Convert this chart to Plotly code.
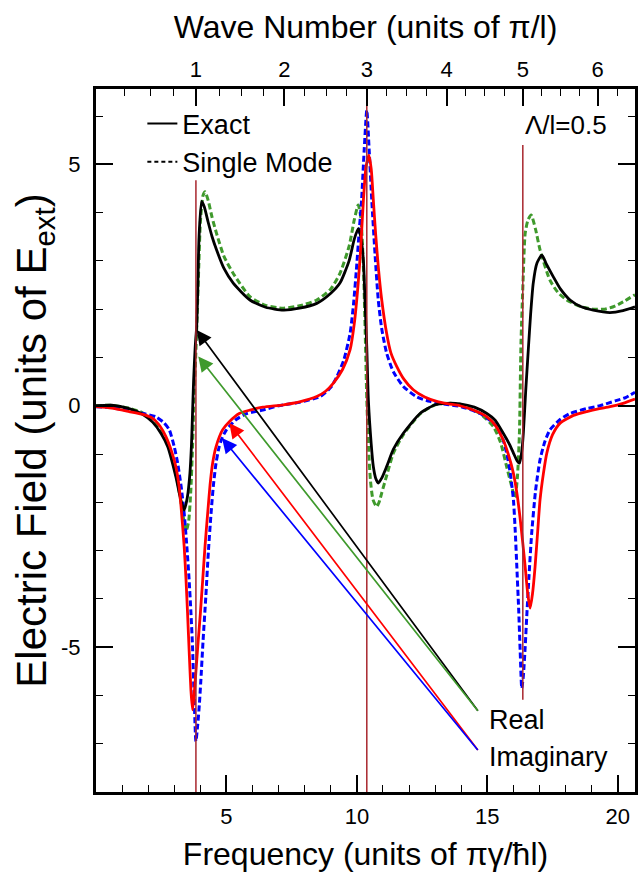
import plotly.graph_objects as go

# ---------------- data ----------------
# Exact, real part (black solid)
EXACT_RE_X = [0, 0.6, 1.27, 1.8, 2.17, 2.5, 2.75, 3.06, 3.25, 3.38, 3.5, 3.6, 3.66, 3.70, 3.74,
              3.8, 3.86, 3.9, 3.95, 4.05, 4.15, 4.3, 4.45, 4.62, 4.9, 5.26, 5.9, 6.5, 7.18, 7.8,
              8.46, 9.0, 9.35, 9.7, 9.9, 10.05, 10.15, 10.25, 10.31, 10.38, 10.44, 10.55, 10.63,
              10.72, 10.82, 10.95, 11.14, 11.4, 11.78, 12.42, 13.0, 13.44, 13.95, 14.5, 14.98,
              15.3, 15.61, 15.85, 16.0, 16.15, 16.23, 16.32, 16.38, 16.47, 16.57, 16.66, 16.76,
              16.9, 17.09, 17.25, 17.53, 17.8, 18.17, 18.6, 19.06, 19.7, 20.2, 20.66]
EXACT_RE_Y = [0.0, 0.01, -0.06, -0.18, -0.34, -0.58, -0.85, -1.47, -1.95, -2.16, -1.9, -1.4, -0.8,
              -0.15, 0.5, 1.2, 1.65, 2.4, 3.5, 4.23, 4.12, 3.8, 3.5, 3.23, 2.85, 2.54, 2.19, 2.04,
              1.98, 2.02, 2.12, 2.33, 2.54, 3.0, 3.45, 3.67, 3.5, 3.0, 2.19, 1.2, 0.12, -0.8,
              -1.26, -1.5, -1.6, -1.5, -1.26, -0.9, -0.57, -0.16, 0.02, 0.05, 0.04, -0.03, -0.16,
              -0.3, -0.57, -0.8, -0.98, -1.15, -1.19, -0.95, -0.57, 0.3, 1.16, 1.9, 2.54, 2.95,
              3.12, 2.95, 2.67, 2.42, 2.19, 2.05, 1.98, 1.93, 1.97, 2.05]

# Single mode, real part (green dashed)
SINGLE_RE_X = [0, 0.6, 1.27, 1.8, 2.17, 2.5, 2.8, 3.1, 3.3, 3.45, 3.55, 3.63, 3.70, 3.76, 3.82,
               3.88, 3.94, 4.0, 4.1, 4.18, 4.3, 4.45, 4.62, 4.9, 5.26, 5.9, 6.5, 7.18, 7.8, 8.46,
               9.0, 9.35, 9.7, 9.9, 10.05, 10.15, 10.25, 10.32, 10.38, 10.45, 10.52, 10.62,
               10.76, 10.85, 10.95, 11.14, 11.4, 11.78, 12.42, 13.0, 13.44, 13.95, 14.3, 14.72,
               15.23, 15.5, 15.74, 15.9, 16.06, 16.15, 16.23, 16.29, 16.37, 16.45, 16.56, 16.68,
               16.85, 17.02, 17.4, 17.7, 18.04, 18.6, 19.06, 19.5, 19.83, 20.2, 20.66]
SINGLE_RE_Y = [0.0, 0.01, -0.05, -0.15, -0.3, -0.52, -0.85, -1.5, -2.15, -2.6, -2.4, -1.8, -0.85,
               0.2, 1.0, 1.9, 2.9, 3.8, 4.35, 4.43, 4.25, 3.9, 3.57, 3.1, 2.74, 2.26, 2.08, 2.02,
               2.07, 2.19, 2.42, 2.74, 3.3, 3.85, 4.16, 3.9, 2.88, 1.5, 0.12, -0.9, -1.55, -1.95,
               -2.09, -2.0, -1.81, -1.45, -0.98, -0.6, -0.17, 0.02, 0.05, 0.03, -0.05, -0.16,
               -0.43, -0.75, -1.26, -1.6, -1.9, -1.5, -0.57, 1.3, 2.6, 3.57, 3.85, 3.95, 3.65,
               3.23, 2.6, 2.35, 2.19, 2.05, 2.0, 2.0, 2.05, 2.15, 2.3]

# Exact, imaginary part (red solid)
EXACT_IM_X = [0, 0.6, 1.27, 1.8, 2.17, 2.45, 2.68, 2.9, 3.06, 3.18, 3.26, 3.38, 3.45, 3.51, 3.58,
              3.64, 3.70, 3.76, 3.83, 3.9, 4.0, 4.09, 4.18, 4.28, 4.37, 4.47, 4.6, 4.85, 5.11,
              5.49, 5.9, 6.4, 7.18, 7.8, 8.46, 8.8, 9.1, 9.45, 9.74, 9.9, 10.05, 10.15, 10.25,
              10.35, 10.46, 10.55, 10.63, 10.72, 10.82, 10.95, 11.14, 11.3, 11.53, 11.8, 12.16,
              12.6, 13.06, 13.5, 13.95, 14.5, 14.98, 15.3, 15.61, 15.8, 16.0, 16.13, 16.25,
              16.35, 16.45, 16.55, 16.64, 16.73, 16.83, 16.93, 17.02, 17.15, 17.28, 17.5, 17.79,
              18.3, 18.81, 19.3, 19.7, 20.2, 20.66]
EXACT_IM_Y = [-0.02, -0.05, -0.12, -0.18, -0.26, -0.42, -0.64, -0.95, -1.26, -1.65, -2.09, -2.92,
              -3.6, -4.3, -5.2, -5.9, -6.3, -6.0, -5.5, -4.99, -4.3, -3.61, -2.9, -2.23, -1.65,
              -1.19, -0.85, -0.5, -0.33, -0.16, -0.09, -0.03, 0.02, 0.08, 0.19, 0.3, 0.47, 0.75,
              1.16, 1.7, 2.54, 3.3, 4.26, 4.95, 5.19, 4.9, 4.26, 3.55, 2.88, 2.2, 1.5, 1.1, 0.81,
              0.55, 0.33, 0.18, 0.09, 0.04, 0.0, -0.1, -0.23, -0.4, -0.71, -1.0, -1.4, -1.8,
              -2.3, -2.8, -3.33, -3.9, -4.19, -3.9, -3.33, -2.6, -1.95, -1.4, -0.98, -0.6, -0.36,
              -0.2, -0.12, -0.06, -0.02, 0.05, 0.14]

# Single mode, imaginary part (blue dashed)
SINGLE_IM_X = [0, 0.6, 1.27, 1.8, 2.3, 2.6, 2.81, 3.0, 3.13, 3.27, 3.38, 3.48, 3.57, 3.64, 3.7,
               3.76, 3.83, 3.9, 3.96, 4.02, 4.1, 4.21, 4.31, 4.41, 4.5, 4.6, 4.72, 4.83, 5.0,
               5.36, 5.8, 6.39, 7.0, 7.8, 8.59, 9.0, 9.23, 9.5, 9.74, 9.87, 9.99, 10.1, 10.18,
               10.28, 10.38, 10.47, 10.57, 10.7, 10.82, 10.95, 11.14, 11.4, 11.78, 12.3, 12.8,
               13.4, 14.0, 14.72, 15.1, 15.36, 15.6, 15.74, 15.88, 16.0, 16.07, 16.13, 16.2,
               16.26, 16.32, 16.38, 16.45, 16.51, 16.6, 16.7, 16.85, 17.02, 17.2, 17.4, 17.8,
               18.17, 18.8, 19.32, 19.9, 20.3, 20.66]
SINGLE_IM_Y = [-0.02, -0.04, -0.1, -0.16, -0.23, -0.35, -0.5, -0.85, -1.19, -1.7, -2.23, -2.9,
               -3.61, -4.3, -4.99, -6.0, -6.95, -6.6, -6.2, -5.68, -4.9, -3.95, -3.0, -2.23,
               -1.65, -1.19, -0.85, -0.67, -0.5, -0.29, -0.16, -0.09, 0.0, 0.07, 0.19, 0.38, 0.6,
               0.95, 1.5, 2.1, 2.88, 3.7, 4.26, 5.3, 6.12, 5.3, 4.26, 3.1, 2.19, 1.6, 1.09, 0.7,
               0.4, 0.18, 0.09, 0.03, -0.02, -0.16, -0.3, -0.43, -0.7, -0.98, -1.4, -1.95, -2.6,
               -3.33, -4.2, -5.1, -5.85, -5.6, -5.0, -4.37, -3.5, -2.64, -1.75, -1.12, -0.75,
               -0.5, -0.28, -0.16, -0.06, 0.0, 0.1, 0.17, 0.28]

# Top axis: wave number (units of pi/l) and the frequency where each falls
K_MAJOR = [1, 2, 3, 4, 5, 6]
K_MAJOR_FREQ = [3.83, 7.22, 10.38, 13.44, 16.36, 19.23]
K_MINOR_FREQ = [1.11, 2.07, 2.96, 4.75, 5.58, 6.41, 8.01, 8.84, 9.61, 11.12, 11.91, 12.68,
                14.18, 14.91, 15.64, 17.09, 17.81, 18.53, 19.98]

# Resonance markers at k = 1, 3, 5
RES_K_INDEX = [0, 2, 4]
RES_Y_TOP = [4.67, 6.56, 5.4]
RES_Y_BOTTOM = [-8.0, -8.0, -6.09]

# Arrows: (head x, head y, tail x, tail y, colour)
ARROW_HEAD_X = [3.86, 3.92, 5.11, 4.83]
ARROW_HEAD_Y = [1.57, 1.02, -0.36, -0.67]
ARROW_TAIL_X = [14.68, 14.68, 14.68, 14.68]
ARROW_TAIL_Y = [-6.35, -6.35, -7.16, -7.16]
ARROW_COLOR = ["#000000", "#3f9a2c", "#ff0000", "#0000ff"]

X_TICKS = [5, 10, 15, 20]
Y_TICKS = [-5, 0, 5]
Y_TICK_TEXT = ["-5", "0", "5"]
X_RANGE = [0, 20.66]
Y_RANGE = [-8.0, 6.56]

FONT = "Liberation Sans, Arial, sans-serif"
GREEN = "#3f9a2c"
RES_COLOR = "#a8262d"

fig = go.Figure()

fig.add_trace(go.Scatter(x=SINGLE_RE_X, y=SINGLE_RE_Y, mode="lines", showlegend=False,
                         line=dict(color=GREEN, width=3, dash="6px,3px", shape="spline", smoothing=0.6)))
fig.add_trace(go.Scatter(x=SINGLE_IM_X, y=SINGLE_IM_Y, mode="lines", showlegend=False,
                         line=dict(color="#0000ff", width=3, dash="6px,3px", shape="spline", smoothing=0.6)))
fig.add_trace(go.Scatter(x=EXACT_RE_X, y=EXACT_RE_Y, mode="lines", showlegend=False,
                         line=dict(color="#000000", width=2.8, shape="spline", smoothing=0.6)))
fig.add_trace(go.Scatter(x=EXACT_IM_X, y=EXACT_IM_Y, mode="lines", showlegend=False,
                         line=dict(color="#ff0000", width=2.8, shape="spline", smoothing=0.6)))

# resonance lines on the wave-number axis
rx, ry = [], []
for i, k in enumerate(RES_K_INDEX):
    rx += [K_MAJOR_FREQ[k], K_MAJOR_FREQ[k], None]
    ry += [RES_Y_BOTTOM[i], RES_Y_TOP[i], None]
fig.add_trace(go.Scatter(x=rx, y=ry, mode="lines", xaxis="x2", showlegend=False,
                         line=dict(color=RES_COLOR, width=1.5)))

# legend entries
fig.add_trace(go.Scatter(x=[None], y=[None], mode="lines", name="Exact",
                         line=dict(color="#000000", width=2)))
fig.add_trace(go.Scatter(x=[None], y=[None], mode="lines", name="Single Mode",
                         line=dict(color="#000000", width=2, dash="4px,3px")))

for hx, hy, tx, ty, c in zip(ARROW_HEAD_X, ARROW_HEAD_Y, ARROW_TAIL_X, ARROW_TAIL_Y, ARROW_COLOR):
    fig.add_annotation(x=hx, y=hy, ax=tx, ay=ty, xref="x", yref="y", axref="x", ayref="y",
                       text="", showarrow=True, arrowhead=2, arrowsize=1.75, arrowwidth=1.7,
                       arrowcolor=c, standoff=0)

fig.add_annotation(x=15.0, y=-6.5, xref="x", yref="y", text="Real", showarrow=False,
                   xanchor="left", yanchor="middle", font=dict(size=27, color="black", family=FONT))
fig.add_annotation(x=15.0, y=-7.27, xref="x", yref="y", text="Imaginary", showarrow=False,
                   xanchor="left", yanchor="middle", font=dict(size=27, color="black", family=FONT))
fig.add_annotation(x=19.68, y=5.81, xref="x", yref="y", text="Λ/l=0.5", showarrow=False,
                   xanchor="right", yanchor="middle", font=dict(size=26, color="black", family=FONT))

axis_common = dict(showgrid=False, zeroline=False, showline=True, linecolor="black", linewidth=3,
                   ticks="inside", ticklen=17, tickwidth=1.5, tickcolor="black", automargin=False,
                   tickfont=dict(size=22, color="black", family=FONT))

fig.update_layout(
    width=641, height=876,
    margin=dict(l=96, r=6, t=89, b=84, autoexpand=False),
    paper_bgcolor="white", plot_bgcolor="white",
    font=dict(family=FONT, color="black"),
    xaxis=dict(range=X_RANGE, tickvals=X_TICKS, ticklabelstandoff=3,
               minor=dict(dtick=1, tick0=0, ticks="inside", ticklen=7, tickwidth=1.2, tickcolor="black"),
               title=dict(text="Frequency (units of πγ/ħl)", font=dict(size=32, family=FONT), standoff=15),
               **axis_common),
    xaxis2=dict(range=X_RANGE, overlaying="x", side="top", anchor="y",
                tickvals=K_MAJOR_FREQ, ticktext=[str(k) for k in K_MAJOR],
                minor=dict(tickvals=K_MINOR_FREQ, ticks="inside", ticklen=7, tickwidth=1.2, tickcolor="black"),
                title=dict(text="Wave Number (units of π/l)", font=dict(size=32, family=FONT), standoff=10),
                **axis_common),
    yaxis=dict(range=Y_RANGE, tickvals=Y_TICKS, ticktext=Y_TICK_TEXT, mirror="ticks", ticklabelstandoff=8,
               minor=dict(dtick=1, tick0=0, ticks="inside", ticklen=7, tickwidth=1.2, tickcolor="black"),
               title=dict(text="Electric Field (units of E<sub>ext</sub>)", font=dict(size=42, family=FONT), standoff=0),
               **axis_common),
    legend=dict(x=0.086, y=0.985, xanchor="left", yanchor="top", bgcolor="rgba(0,0,0,0)",
                font=dict(size=27, family=FONT, color="black"), tracegroupgap=0),
)

fig.write_html("out.html", config={"displayModeBar": False},
               post_script="document.body.style.margin='0px';")
